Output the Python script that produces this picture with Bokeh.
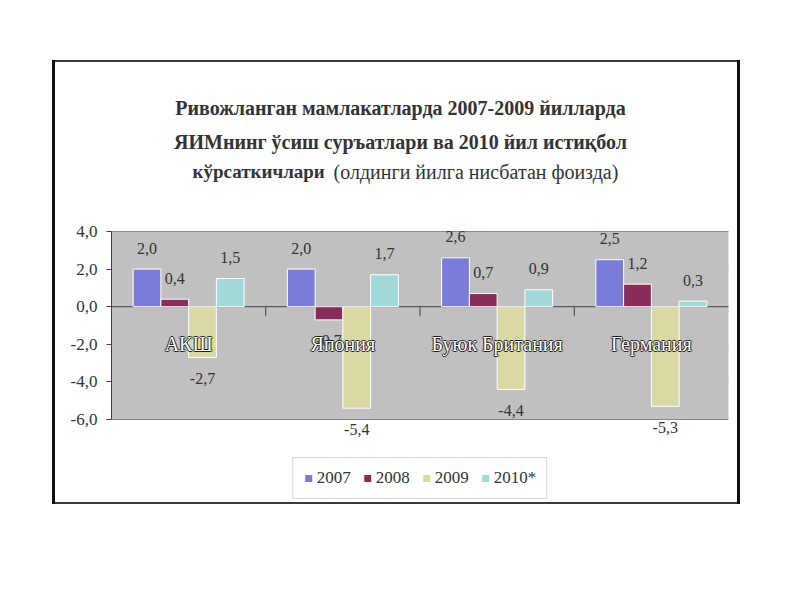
from bokeh.plotting import figure
from bokeh.models import (Range1d, ColumnDataSource, Legend, LegendItem,
                          BoxAnnotation, FixedTicker)
from bokeh.core.properties import value
from bokeh.embed import file_html
from bokeh.resources import INLINE

countries = ["АКШ", "Япония", "Буюк Британия", "Германия"]
years = ["2007", "2008", "2009", "2010*"]
v2007 = [2.0, 2.0, 2.6, 2.5]
v2008 = [0.4, -0.7, 0.7, 1.2]
v2009 = [-2.7, -5.4, -4.4, -5.3]
v2010 = [1.5, 1.7, 0.9, 0.3]
y_ticks = [-6, -4, -2, 0, 2, 4]
title1 = "Ривожланган мамлакатларда 2007-2009 йилларда"
title2 = "ЯИМнинг ўсиш суръатлари ва 2010 йил истиқбол"
title3a = "кўрсаткичлари"
title3b = "(олдинги йилга нисбатан фоизда)"

colors = ["#7B7BDA", "#882C5A", "#D9D9A6", "#A2DADA"]
FONT = "'Liberation Serif', 'DejaVu Serif', serif"
TXT = "#333333"

# layout geometry (pixels)
FIG_X0, FIG_Y0 = 52, 60          # outer chart box top-left on the page
FIG_W, FIG_H = 688, 444
AX_L, AX_R = 111, 728            # plot area left / right on the page
Y4_PX, YM6_PX = 231, 419         # page y of the top (4) and bottom (-6) ticks
PXU = (YM6_PX - Y4_PX) / (max(y_ticks) - min(y_ticks))
CAT_W = (AX_R - AX_L) / len(countries)


def px_x(x):
    return (x - AX_L) / CAT_W


def px_y(y):
    return max(y_ticks) - (y - Y4_PX) / PXU


def fmt(v):
    return f"{v:.1f}".replace(".", ",")


p = figure(width=FIG_W, height=FIG_H, x_range=Range1d(0, len(countries)),
           y_range=Range1d(px_y(FIG_Y0 + FIG_H), px_y(FIG_Y0)),
           output_backend="svg", toolbar_location=None,
           min_border_left=AX_L - FIG_X0, min_border_right=FIG_X0 + FIG_W - AX_R,
           min_border_top=0, min_border_bottom=0)
p.margin = (FIG_Y0, 0, 0, FIG_X0)
p.border_fill_alpha = 0
p.background_fill_alpha = 0
p.outline_line_color = None
p.styles = {"box-shadow": "inset 3px 0 0 #111111, inset -3px 0 0 #111111, "
                          "inset 0 2px 0 #3a3a3a, inset 0 -2px 0 #3a3a3a",
            "background-color": "white"}

# grey plot area
p.add_layout(BoxAnnotation(left=0, right=len(countries), bottom=min(y_ticks),
                           top=max(y_ticks), fill_color="#C0C0C0", fill_alpha=1,
                           line_color="#808080", line_width=1, level="underlay"))

p.xaxis.visible = False
p.xgrid.visible = False
p.ygrid.grid_line_color = "#555555"
p.ygrid.grid_line_width = 1
p.ygrid.ticker = FixedTicker(ticks=y_ticks)

p.yaxis.ticker = FixedTicker(ticks=y_ticks)
p.yaxis.bounds = (min(y_ticks), max(y_ticks))
p.yaxis.major_label_overrides = {t: fmt(t) for t in y_ticks}
p.yaxis.minor_tick_line_color = None
p.yaxis.axis_line_color = "#404040"
p.yaxis.major_tick_line_color = "#404040"
p.yaxis.major_tick_out = 5
p.yaxis.major_tick_in = 0
p.yaxis.major_label_text_font = FONT
p.yaxis.major_label_text_font_size = "17px"
p.yaxis.major_label_text_color = TXT
p.yaxis.major_label_standoff = 9

# category axis line at zero and boundary ticks
p.segment(x0=[0], x1=[len(countries)], y0=[0], y1=[0], line_color="#404040", line_width=1)
bnd = list(range(1, len(countries)))
p.segment(x0=bnd, x1=bnd, y0=[0] * len(bnd), y1=[-0.5] * len(bnd),
          line_color="#404040", line_width=1)

series = [v2007, v2008, v2009, v2010]
bw = 0.18
items = []
for j, (vals, yr, col) in enumerate(zip(series, years, colors)):
    xs = [i + 0.5 + (j - 1.5) * bw for i in range(len(countries))]
    src = ColumnDataSource(dict(x=xs, top=vals, lab=[fmt(v) for v in vals],
                                yoff=[-21 if v >= 0 else 21 for v in vals]))
    r = p.vbar(x="x", top="top", bottom=0, width=bw, source=src,
               fill_color=col, line_color="white", line_width=1)
    p.text(x="x", y="top", text="lab", y_offset="yoff", source=src,
           text_align="center", text_baseline="middle",
           text_font=value(FONT), text_font_size="16px", text_color=TXT)
    items.append(LegendItem(label=yr, renderers=[r]))

# category labels (white with dark outline)
cx = [i + 0.5 for i in range(len(countries))]
cy = [-2] * len(countries)
for dx, dy in [(-1, 0), (1, 0), (0, -1), (0, 1)]:
    p.text(x=cx, y=cy, text=countries, x_offset=dx, y_offset=dy,
           text_align="center", text_baseline="middle",
           text_font=value(FONT), text_font_size="20px", text_color="#222222")
p.text(x=cx, y=cy, text=countries, text_align="center", text_baseline="middle",
       text_font=value(FONT), text_font_size="20px", text_color="white")

# title
p.text(x=[px_x(400), px_x(400)], y=[px_y(107), px_y(141)], text=[title1, title2],
       text_align="center", text_baseline="alphabetic",
       text_font=value(FONT), text_font_size="20px", text_font_style="bold",
       text_color=TXT)
p.text(x=[px_x(192)], y=[px_y(171)], text=[title3a],
       text_align="left", text_baseline="alphabetic",
       text_font=value(FONT), text_font_size="19px", text_font_style="bold",
       text_color=TXT)
p.text(x=[px_x(333)], y=[px_y(171)], text=[title3b],
       text_align="left", text_baseline="alphabetic",
       text_font=value(FONT), text_font_size="20px", text_color=TXT)

legend = Legend(items=items, orientation="horizontal", location="bottom_center",
                margin=5, glyph_width=10, glyph_height=10, label_standoff=4,
                spacing=11, padding=10, label_text_font=FONT,
                label_text_font_size="17px", label_text_color=TXT,
                border_line_color="#B0B0B0", background_fill_color="white",
                background_fill_alpha=1)
p.add_layout(legend, "center")

open("out.html", "w").write(file_html(p, INLINE))
